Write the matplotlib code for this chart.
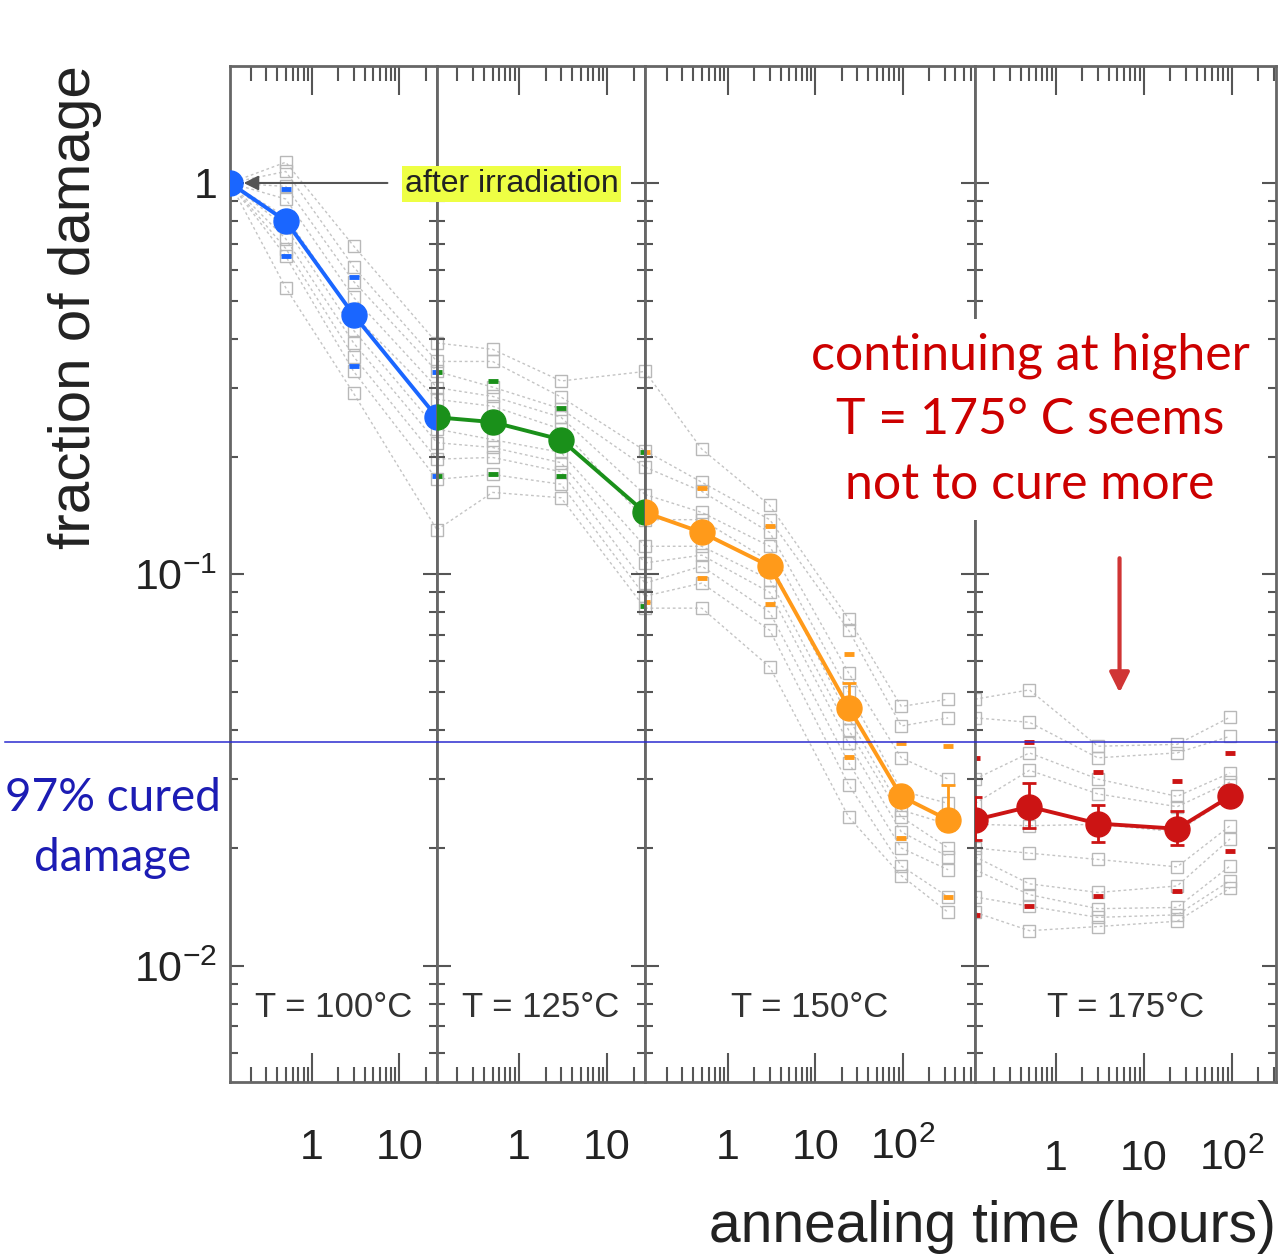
import matplotlib
matplotlib.use('Agg')
import matplotlib.pyplot as plt
from matplotlib import font_manager
from matplotlib.ticker import FixedLocator, LogLocator, NullFormatter, FuncFormatter
from matplotlib.transforms import blended_transform_factory
from matplotlib.lines import Line2D
import numpy as np

# pick a narrow Helvetica-like face for the tick numbers if we have it
names = {f.name for f in font_manager.fontManager.ttflist}
narrow = 'Liberation Sans Narrow' if 'Liberation Sans Narrow' in names else 'Liberation Sans'
tick_size = 34 if narrow == 'Liberation Sans Narrow' else 31

plt.rcParams['font.family'] = [narrow, 'DejaVu Sans']
plt.rcParams['mathtext.fontset'] = 'custom'
plt.rcParams['mathtext.rm'] = narrow
plt.rcParams['mathtext.default'] = 'regular'

# panels
temps = ['T = 100°C', 'T = 125°C', 'T = 150°C', 'T = 175°C']
colors = ['#1a66ff', '#1a901a', '#ff9a1a', '#cc1414']
xlims = [(0.115, 27), (0.117, 27), (0.112, 670), (0.12, 320)]

# annealing steps in hours (first / last step of a panel sits on its edge)
times_100 = [0.115, 0.5, 3, 27]
times_125 = [0.117, 0.5, 3, 27]
times_150 = [0.112, 0.5, 3, 24, 96, 330]
times_175 = [0.12, 0.5, 3, 24, 96]

# mean fraction of damage
mean_100 = [1.0, 0.80, 0.46, 0.252]
mean_125 = [0.252, 0.245, 0.221, 0.144]
mean_150 = [0.144, 0.128, 0.105, 0.0457, 0.0271, 0.0236]
mean_175 = [0.0236, 0.0255, 0.0231, 0.0224, 0.0271]

# error bars on the mean
err_hi_100 = [1.0, 0.82, 0.475, 0.26]
err_lo_100 = [1.0, 0.78, 0.445, 0.244]
err_hi_125 = [0.26, 0.252, 0.228, 0.149]
err_lo_125 = [0.244, 0.238, 0.214, 0.139]
err_hi_150 = [0.149, 0.132, 0.109, 0.0529, 0.0285, 0.0290]
err_lo_150 = [0.139, 0.124, 0.101, 0.0445, 0.0258, 0.0222]
err_hi_175 = [0.027, 0.0293, 0.0258, 0.0249, 0.0285]
err_lo_175 = [0.021, 0.0225, 0.0207, 0.0204, 0.0259]

# spread of the samples (short coloured dashes)
band_hi_100 = [1.0, 0.965, 0.575, 0.329]
band_lo_100 = [1.0, 0.65, 0.34, 0.178]
band_hi_125 = [0.329, 0.312, 0.266, 0.205]
band_lo_125 = [0.178, 0.180, 0.178, 0.083]
band_hi_150 = [0.205, 0.166, 0.133, 0.0628, 0.0372, 0.0364]
band_lo_150 = [0.085, 0.098, 0.084, 0.0342, 0.0212, 0.0150]
band_hi_175 = [0.034, 0.0374, 0.0313, 0.0296, 0.035]
band_lo_175 = [0.0135, 0.0142, 0.0151, 0.0155, 0.0196]

# individual samples, one row per annealing step
samples_100 = [
    [1.0, 1.0, 1.0, 1.0, 1.0, 1.0, 1.0, 1.0, 1.0, 1.0],
    [1.13, 1.07, 0.98, 0.91, 0.82, 0.77, 0.72, 0.68, 0.65, 0.54],
    [0.69, 0.61, 0.56, 0.51, 0.46, 0.42, 0.39, 0.36, 0.33, 0.29],
    [0.39, 0.35, 0.33, 0.30, 0.28, 0.235, 0.217, 0.197, 0.175, 0.13],
]
samples_125 = [
    [0.39, 0.35, 0.33, 0.30, 0.28, 0.235, 0.217, 0.197, 0.175, 0.13],
    [0.376, 0.350, 0.301, 0.285, 0.269, 0.221, 0.211, 0.199, 0.180, 0.162],
    [0.312, 0.284, 0.265, 0.252, 0.235, 0.205, 0.193, 0.183, 0.170, 0.157],
    [0.33, 0.207, 0.188, 0.160, 0.138, 0.118, 0.107, 0.095, 0.088, 0.082],
]
samples_150 = [
    [0.33, 0.207, 0.188, 0.160, 0.138, 0.118, 0.107, 0.095, 0.088, 0.082],
    [0.209, 0.172, 0.163, 0.144, 0.138, 0.118, 0.112, 0.105, 0.095, 0.082],
    [0.150, 0.138, 0.128, 0.118, 0.108, 0.097, 0.090, 0.080, 0.072, 0.058],
    [0.077, 0.072, 0.056, 0.050, 0.043, 0.040, 0.037, 0.033, 0.029, 0.024],
    [0.046, 0.041, 0.034, 0.028, 0.025, 0.024, 0.022, 0.020, 0.018, 0.017],
    [0.048, 0.043, 0.030, 0.026, 0.023, 0.020, 0.019, 0.0176, 0.015, 0.0137],
]
samples_175 = [
    [0.048, 0.043, 0.030, 0.026, 0.023, 0.020, 0.019, 0.0176, 0.015, 0.0137],
    [0.0507, 0.0419, 0.0350, 0.0316, 0.0228, 0.0194, 0.0162, 0.0152, 0.0142, 0.0123],
    [0.0364, 0.0340, 0.0300, 0.0275, 0.0230, 0.0187, 0.0154, 0.0140, 0.0133, 0.0126],
    [0.0368, 0.0350, 0.0271, 0.0255, 0.0220, 0.0179, 0.0160, 0.0141, 0.0135, 0.0130],
    [0.0432, 0.0386, 0.0311, 0.0295, 0.0270, 0.0228, 0.0211, 0.0180, 0.0165, 0.0158],
]

cured_level = 0.0374  # "97% cured" reference line
ylims = (0.00505, 1.99)

times = [times_100, times_125, times_150, times_175]
means = [mean_100, mean_125, mean_150, mean_175]
err_hi = [err_hi_100, err_hi_125, err_hi_150, err_hi_175]
err_lo = [err_lo_100, err_lo_125, err_lo_150, err_lo_175]
band_hi = [band_hi_100, band_hi_125, band_hi_150, band_hi_175]
band_lo = [band_lo_100, band_lo_125, band_lo_150, band_lo_175]
samples = [samples_100, samples_125, samples_150, samples_175]

W, H = 1278, 1257
fig = plt.figure(figsize=(W / 100, H / 100), dpi=100)

# panel edges in pixels
edges = [230, 437, 645, 975, 1276]
top, bottom = 66, 1082
axes = []
for i in range(4):
    ax = fig.add_axes([edges[i] / W, 1 - bottom / H,
                       (edges[i + 1] - edges[i]) / W, (bottom - top) / H])
    axes.append(ax)

xlabels = {1: '1', 10: '10', 100: '$10^2$'}
ylabels = {1: '1', 0.1: '$10^{-1}$', 0.01: '$10^{-2}$'}

for i, ax in enumerate(axes):
    t = np.array(times[i])
    m = np.array(means[i])
    s = np.array(samples[i])
    c = colors[i]

    for k in range(s.shape[1]):
        ax.plot(t, s[:, k], ls=(0, (2, 2)), color='#c4c4c4', lw=1,
                marker='s', ms=8.5, mfc='none', mec='#b8b8b8', mew=1, zorder=1)
    ax.plot(t, band_hi[i], ls='none', marker='_', color=c, ms=7, mew=3.5, zorder=2)
    ax.plot(t, band_lo[i], ls='none', marker='_', color=c, ms=7, mew=3.5, zorder=2)
    yerr = [m - np.array(err_lo[i]), np.array(err_hi[i]) - m]
    ax.errorbar(t, m, yerr=yerr, color=c, lw=2.8, marker='o', ms=18,
                elinewidth=2, capsize=5, capthick=2, zorder=3)

    ax.set_xscale('log')
    ax.set_yscale('log')
    ax.set_xlim(xlims[i])
    ax.set_ylim(ylims)

    ax.xaxis.set_major_locator(FixedLocator([v for v in xlabels if xlims[i][0] < v < xlims[i][1]]))
    ax.xaxis.set_major_formatter(FuncFormatter(lambda v, p: xlabels.get(round(v), '')))
    ax.xaxis.set_minor_locator(LogLocator(base=10, subs=np.arange(2, 10), numticks=30))
    ax.xaxis.set_minor_formatter(NullFormatter())
    ax.yaxis.set_major_locator(FixedLocator([0.01, 0.1, 1]))
    ax.yaxis.set_minor_locator(LogLocator(base=10, subs=np.arange(2, 10), numticks=30))
    ax.yaxis.set_minor_formatter(NullFormatter())
    if i == 0:
        ax.yaxis.set_major_formatter(FuncFormatter(lambda v, p: ylabels.get(round(v, 3), '')))
    else:
        ax.yaxis.set_major_formatter(NullFormatter())

    ax.tick_params(which='both', direction='in', top=True, right=True,
                   color='#555555', width=1.5, labelsize=tick_size, labelcolor='#222222')
    ax.tick_params(axis='x', which='major', length=21, pad=33 if i < 3 else 41)
    ax.tick_params(axis='x', which='minor', length=11)
    ax.tick_params(axis='y', which='major', length=10, pad=9)
    ax.tick_params(axis='y', which='minor', length=6)
    for sp in ax.spines.values():
        sp.set_color('#666666')
        sp.set_linewidth(2)

    ax.text(0.5, 0.073, temps[i], transform=ax.transAxes, ha='center', va='center',
            fontsize=25, family='Liberation Sans', color='#333333')

# axis titles
fig.text(75 / W, 1 - 307 / H, 'fraction of damage', rotation=90, ha='center', va='center',
         fontsize=42, family='Liberation Sans', color='#222222')
fig.text(1276 / W, 1 - 1227 / H, 'annealing time (hours)', ha='right', va='center',
         fontsize=41, family='Liberation Sans', color='#222222')

# "after irradiation" marker
axes[0].annotate('', xy=(0.165, 1.0), xytext=(7.3, 1.0),
                 arrowprops=dict(arrowstyle='-|>', color='#555555', lw=1.5,
                                 mutation_scale=22, shrinkA=0, shrinkB=0))
fig.text(405 / W, 1 - 184 / H, 'after irradiation', ha='left', va='center',
         fontsize=23, family='Liberation Sans', color='#222222',
         bbox=dict(boxstyle='square,pad=0.08', fc='#eeff44', ec='none'))

# 97% cured line and note
fig.add_artist(Line2D([5 / W, 1.0], [cured_level, cured_level],
                      transform=blended_transform_factory(fig.transFigure, axes[0].transData),
                      color='#2b2bd0', lw=1.1))
fig.text(113 / W, 1 - 828 / H, '97% cured\ndamage', ha='center', va='center',
         fontsize=33, family='Lato', color='#1c1cb4', linespacing=1.55)

# note on the 175 C step
fig.text(1030 / W, 1 - 420 / H, 'continuing at higher\nT = 175° C seems\nnot to cure more',
         ha='center', va='center', fontsize=36, family='Lato', color='#cc0000',
         linespacing=1.5, bbox=dict(boxstyle='square,pad=0.25', fc='white', ec='none'))
axes[3].annotate('', xy=(5.3, 0.0499), xytext=(5.3, 0.110),
                 arrowprops=dict(arrowstyle='-|>', color='#d03535', lw=3,
                                 mutation_scale=30, shrinkA=0, shrinkB=0))

fig.savefig('out.png', dpi=100)
